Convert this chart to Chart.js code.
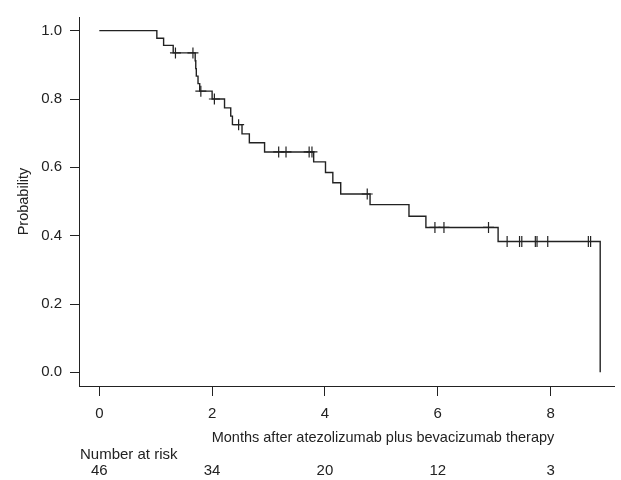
<!DOCTYPE html>
<html>
<head>
<meta charset="utf-8">
<script src="https://cdn.jsdelivr.net/npm/chart.js@4/dist/chart.umd.min.js"></script>
<style>
    html, body { margin: 0; padding: 0; background: #ffffff; }
    canvas { display: block; }
</style>
</head>
<body>
<canvas id="kmChart" width="621" height="480"></canvas>
<script>

/* =========================
   DATA
========================= */

// step points of the curve (time in months, survival after the event)
const kmTime = [0, 1.02, 1.14, 1.31, 1.70, 1.71, 1.72, 1.75, 1.78, 2.00, 2.22, 2.33, 2.36, 2.53, 2.66, 2.93, 3.80, 4.01, 4.14, 4.28, 4.80, 5.49, 5.79, 7.07, 8.88, 8.88];
const kmSurv = [1.0, 0.978, 0.957, 0.935, 0.912, 0.889, 0.867, 0.845, 0.823, 0.800, 0.774, 0.750, 0.725, 0.698, 0.672, 0.645, 0.616, 0.585, 0.555, 0.522, 0.491, 0.457, 0.424, 0.383, 0.383, 0.0];

// censored observations
const censorTime = [1.35, 1.66, 1.80, 2.04, 2.47, 3.18, 3.31, 3.72, 3.77, 4.75, 5.95, 6.11, 6.90, 7.23, 7.45, 7.49, 7.73, 7.76, 7.95, 8.67, 8.71];
const censorSurv = [0.935, 0.935, 0.823, 0.800, 0.725, 0.645, 0.645, 0.645, 0.645, 0.522, 0.424, 0.424, 0.424, 0.383, 0.383, 0.383, 0.383, 0.383, 0.383, 0.383, 0.383];

// axes
const xTicks = [0, 2, 4, 6, 8];
const yTicks = [0, 0.2, 0.4, 0.6, 0.8, 1.0];

// number at risk table
const riskTimes = [0, 2, 4, 6, 8];
const riskCounts = [46, 34, 20, 12, 3];

const xTitle = "Months after atezolizumab plus bevacizumab therapy";
const yTitle = "Probability";
const riskTitle = "Number at risk";

/* =========================
   STYLE
========================= */

const ink = "#222222";
const fontFamily = "'Liberation Sans', Arial, Helvetica, sans-serif";
const fontSize = 15;
const titleSize = 14.5;

/* =========================
   TEXT PLUGIN
========================= */

const riskTextPlugin = {

    id: "riskText",

    afterDraw(chart) {

        const ctx = chart.ctx;
        const xScale = chart.scales.x;

        ctx.save();

        ctx.fillStyle = ink;
        ctx.textBaseline = "middle";

        ctx.font = titleSize + "px " + fontFamily;
        ctx.textAlign = "center";
        ctx.fillText(xTitle, 383, 438);

        ctx.font = fontSize + "px " + fontFamily;
        ctx.textAlign = "left";
        ctx.fillText(riskTitle, 80, 455);

        ctx.textAlign = "center";
        riskTimes.forEach((t, i) => {
            ctx.fillText(String(riskCounts[i]), xScale.getPixelForValue(t), 471);
        });

        ctx.font = titleSize + "px " + fontFamily;
        ctx.translate(24, (chart.chartArea.top + chart.chartArea.bottom) / 2);
        ctx.rotate(-Math.PI / 2);
        ctx.fillText(yTitle, 0, 0);

        ctx.restore();

    }

};

/* =========================
   CHART
========================= */

const ctx = document.getElementById("kmChart");

new Chart(ctx, {

    type: "scatter",

    data: {

        datasets: [

            {
                label: "Survival",
                data: kmTime.map((t, i) => ({ x: t, y: kmSurv[i] })),
                showLine: true,
                stepped: "before",
                borderColor: ink,
                borderWidth: 1.4,
                pointRadius: 0,
                fill: false
            },

            {
                label: "Censored",
                data: censorTime.map((t, i) => ({ x: t, y: censorSurv[i] })),
                showLine: false,
                pointStyle: "cross",
                pointRadius: 5.5,
                borderColor: ink,
                borderWidth: 1.2
            }

        ]

    },

    options: {

        responsive: false,
        animation: false,
        devicePixelRatio: 1,

        layout: {
            padding: { top: 13, right: 4, left: 0, bottom: 0 }
        },

        plugins: {
            legend: { display: false },
            tooltip: { enabled: false }
        },

        scales: {

            x: {
                type: "linear",
                min: -0.36,
                max: 9.13,
                afterBuildTicks: scale => {
                    scale.ticks = xTicks.map(v => ({ value: v }));
                },
                afterFit: scale => {
                    scale.height = 94;
                },
                ticks: {
                    color: ink,
                    padding: 9,
                    maxRotation: 0,
                    font: { family: fontFamily, size: fontSize },
                    callback: v => String(v)
                },
                grid: {
                    drawOnChartArea: false,
                    drawTicks: true,
                    tickLength: 10,
                    color: ink,
                    lineWidth: 1
                },
                border: { display: true, color: ink, width: 1 }
            },

            y: {
                type: "linear",
                min: -0.04,
                max: 1.04,
                afterBuildTicks: scale => {
                    scale.ticks = yTicks.map(v => ({ value: v }));
                },
                afterFit: scale => {
                    scale.width = 79;
                },
                ticks: {
                    color: ink,
                    padding: 8,
                    font: { family: fontFamily, size: fontSize },
                    callback: v => Number(v).toFixed(1)
                },
                grid: {
                    drawOnChartArea: false,
                    drawTicks: true,
                    tickLength: 9,
                    color: ink,
                    lineWidth: 1
                },
                border: { display: true, color: ink, width: 1 }
            }

        }

    },

    plugins: [riskTextPlugin]

});

</script>
</body>
</html>
